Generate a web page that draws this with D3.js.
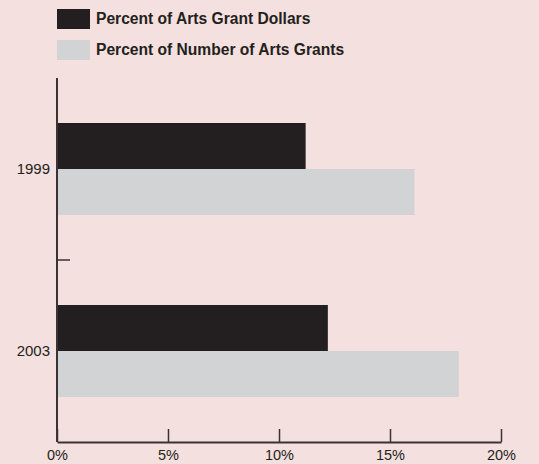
<!DOCTYPE html>
<html>
<head>
<meta charset="utf-8">
<script src="https://cdn.jsdelivr.net/npm/d3@7"></script>
<style>
  html, body { margin: 0; padding: 0; background: #f4e0de; }
  svg { display: block; font-family: "Liberation Sans", Arial, sans-serif; }
</style>
</head>
<body>
<svg id="chart"></svg>
<script>
const years = ["1999", "2003"];
const seriesNames = ["Percent of Arts Grant Dollars", "Percent of Number of Arts Grants"];
const grantDollars = [11.2, 12.2];
const grantNumbers = [16.1, 18.1];
const xTicks = [0, 5, 10, 15, 20];

const width = 539, height = 464;
const margin = { top: 78, right: 38, bottom: 22, left: 57 };
const colors = ["#231f20", "#d1d3d4"];
const ink = "#231f20";

const svg = d3.select("#chart")
  .attr("width", width)
  .attr("height", height);

const data = years.map((y, i) => ({ year: y, values: [grantDollars[i], grantNumbers[i]] }));

const x = d3.scaleLinear()
  .domain([0, 20])
  .range([margin.left, width - margin.right]);

const y0 = d3.scaleBand()
  .domain(years)
  .range([margin.top, height - margin.bottom]);

const y1 = d3.scaleBand()
  .domain([0, 1])
  .range([45, y0.bandwidth() - 45]);

// bars
svg.append("g")
  .selectAll("g")
  .data(data)
  .enter()
  .append("g")
  .attr("transform", d => `translate(0,${y0(d.year)})`)
  .selectAll("rect")
  .data(d => d.values)
  .enter()
  .append("rect")
  .attr("x", x(0))
  .attr("y", (d, i) => y1(i))
  .attr("width", d => x(d) - x(0))
  .attr("height", y1.bandwidth())
  .attr("fill", (d, i) => colors[i]);

// x axis, ticks pointing up
const xAxis = d3.axisBottom(x)
  .tickValues(xTicks)
  .tickFormat(d => d + "%")
  .tickSizeInner(-13)
  .tickSizeOuter(0)
  .tickPadding(8);

const gx = svg.append("g")
  .attr("transform", `translate(0,${height - margin.bottom})`)
  .call(xAxis);
gx.select(".domain").attr("stroke", "#3a3233").attr("stroke-width", 2);
gx.selectAll(".tick line").attr("stroke", "#3a3233").attr("stroke-width", 1.5);
gx.selectAll(".tick text")
  .attr("fill", ink)
  .style("font-size", "14.5px");

// y axis line
svg.append("line")
  .attr("x1", x(0)).attr("x2", x(0))
  .attr("y1", y0.range()[0]).attr("y2", y0.range()[1])
  .attr("stroke", "#3a3233")
  .attr("stroke-width", 2);

// separator tick between categories
svg.append("line")
  .attr("x1", x(0)).attr("x2", x(0) + 13)
  .attr("y1", y0("2003")).attr("y2", y0("2003"))
  .attr("stroke", "#3a3233")
  .attr("stroke-width", 1.5);

// category labels
svg.append("g")
  .selectAll("text")
  .data(years)
  .enter()
  .append("text")
  .attr("x", x(0) - 7)
  .attr("y", d => y0(d) + y0.bandwidth() / 2)
  .attr("dy", "0.35em")
  .attr("text-anchor", "end")
  .attr("fill", ink)
  .style("font-size", "15px")
  .text(d => d);

// legend
const legend = svg.append("g")
  .selectAll("g")
  .data(seriesNames)
  .enter()
  .append("g")
  .attr("transform", (d, i) => `translate(57,${9 + i * 31})`);

legend.append("rect")
  .attr("width", 33)
  .attr("height", 20)
  .attr("fill", (d, i) => colors[i]);

legend.append("text")
  .attr("x", 39)
  .attr("y", 10)
  .attr("dy", "0.35em")
  .attr("fill", ink)
  .style("font-size", "15.6px")
  .style("font-weight", "bold")
  .text(d => d);
</script>
</body>
</html>
